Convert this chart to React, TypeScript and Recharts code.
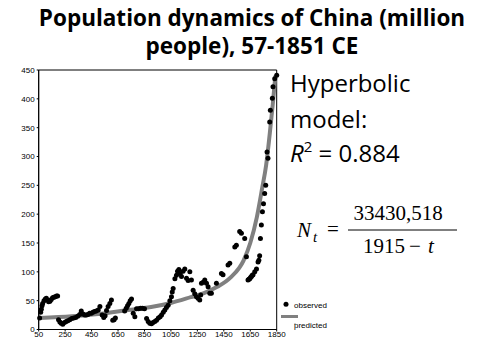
import { ComposedChart, Line, Scatter, XAxis, YAxis, ReferenceArea } from "recharts";

// observed population, million people
const observedYears = [
  57, 65, 70, 75, 80, 90, 100, 108, 115, 125, 135, 145, 155, 165, 175, 185, 193,
  200, 210, 220, 232, 245, 258, 270, 285, 300, 315, 330, 345, 360, 372, 385, 398, 410, 422, 435, 448, 460, 472, 485,
  500, 513, 530, 542, 552, 563, 575, 588, 600, 610, 620, 630,
  700, 712, 722, 732, 742, 752, 765, 777, 790, 805, 820, 835, 850,
  866, 878, 890, 903, 915, 928, 941, 955, 968, 979, 992, 1004, 1016, 1029, 1042, 1054, 1060, 1067,
  1080, 1092, 1100, 1110, 1120, 1130, 1142, 1155, 1168, 1180, 1193, 1205, 1218, 1230, 1243, 1255, 1268, 1275,
  1281, 1294, 1306, 1319, 1331, 1344, 1356,
  1394, 1432, 1444, 1482, 1495, 1533, 1545, 1570, 1583, 1608, 1621,
  1633, 1640, 1646, 1652, 1659, 1665, 1671, 1684, 1697, 1709, 1715, 1721, 1727, 1734, 1742, 1750, 1759, 1767,
  1777, 1784, 1797, 1802, 1817, 1822, 1835, 1850,
];
const observedValues = [
  20, 30, 35, 41, 45, 50, 53, 54, 51, 48, 49, 52, 55, 56, 57, 58, 58,
  17, 13, 11, 9, 12, 14, 15, 17, 19, 20, 21, 23, 26, 32, 27, 25, 25, 26, 28, 28, 30, 31, 32,
  34, 40, 25, 21, 24, 33, 40, 45, 51, 16, 17, 20,
  32, 37, 41, 45, 50, 53, 28, 22, 36, 36, 37, 37, 36,
  19, 14, 11, 10, 12, 14, 16, 20, 22, 25, 30, 34, 38, 42, 50, 57, 65, 71,
  88, 94, 101, 104, 97, 92, 101, 105, 89, 85, 100, 86, 68, 62, 57, 54, 51, 60,
  80, 82, 86, 80, 74, 63, 63,
  80, 97, 95, 112, 115, 143, 146, 170, 167, 158, 126,
  86, 87, 88, 90, 92, 94, 95, 100, 105, 117, 120, 128, 158, 181, 204, 218, 236, 250,
  308, 297, 360, 380, 401, 421, 435, 441,
];

// predicted (hyperbolic model) curve
const predictedYears = [57, 300, 500, 700, 900, 1050, 1200, 1300, 1400, 1500, 1600, 1650, 1700, 1740, 1770, 1800, 1820, 1840];
const predictedValues = [20, 23, 27, 33, 39, 46, 56, 63, 74, 90, 120, 150, 195, 245, 285, 345, 390, 440];

const xTicks = [50, 250, 450, 650, 850, 1050, 1250, 1450, 1650, 1850];
const yTicks = [0, 50, 100, 150, 200, 250, 300, 350, 400, 450];

const observedData = observedYears.map((year, i) => ({ year, value: observedValues[i] }));
const predictedData = predictedYears.map((year, i) => ({ year, value: predictedValues[i] }));

const tickStyle = { fontSize: 8, fontFamily: "'Liberation Sans', Arial, sans-serif", fill: "#000" };

const Dot = (props: any) => <circle cx={props.cx} cy={props.cy} r={2.5} fill="#000" />;

export default function App() {
  return (
    <div style={{ position: "absolute", left: 0, top: 0, width: 480, height: 360, background: "#fff" }}>
      <ComposedChart
        width={480}
        height={360}
        margin={{ top: 70, right: 203.3, bottom: 10.5, left: 8.7 }}
      >
        <XAxis
          dataKey="year"
          type="number"
          domain={[50, 1850]}
          ticks={xTicks}
          interval={0}
          height={20}
          tick={tickStyle}
          tickSize={2}
          tickMargin={0}
          stroke="#000"
        />
        <YAxis
          type="number"
          domain={[0, 450]}
          ticks={yTicks}
          interval={0}
          width={30}
          tick={tickStyle}
          tickSize={2}
          tickMargin={2}
          stroke="#000"
        />
        <ReferenceArea x1={50} x2={1850} y1={0} y2={450} stroke="#000" strokeWidth={1} fill="none" />
        <Line
          data={predictedData}
          dataKey="value"
          type="monotone"
          stroke="#808080"
          strokeWidth={4}
          dot={false}
          isAnimationActive={false}
        />
        <Scatter data={observedData} dataKey="value" shape={Dot} isAnimationActive={false} />
      </ComposedChart>

      <svg
        width={480}
        height={360}
        style={{ position: "absolute", left: 0, top: 0, pointerEvents: "none" }}
      >
        <g fontFamily="'Open Sans', sans-serif" fontWeight="bold" fontSize={22.5} textAnchor="middle">
          <text x={252} y={26}>Population dynamics of China (million</text>
          <text x={252} y={54}>people), 57-1851 CE</text>
        </g>

        <g fontFamily="'Open Sans', sans-serif" fontSize={24}>
          <text x={290} y={92}>Hyperbolic</text>
          <text x={290} y={128}>model:</text>
          <text x={290} y={162}>
            <tspan fontStyle="italic">R</tspan>
            <tspan fontSize={15} dy={-10}>2</tspan>
            <tspan dy={10}> = 0.884</tspan>
          </text>
        </g>

        <g fontFamily="'Liberation Serif', 'Times New Roman', serif" fontSize={21}>
          <text x={297} y={237} fontStyle="italic">N</text>
          <text x={313} y={242} fontStyle="italic" fontSize={15}>t</text>
          <text x={327} y={236}>=</text>
          <line x1={348} y1={230} x2={457} y2={230} stroke="#000" strokeWidth={1} />
          <text x={398} y={220} textAnchor="middle">33430,518</text>
          <text x={363} y={253}>1915</text>
          <text x={409} y={253}>−</text>
          <text x={428} y={253} fontStyle="italic">t</text>
        </g>

        <g fontFamily="'Liberation Sans', Arial, sans-serif" fontSize={8}>
          <circle cx={286} cy={304.3} r={2.5} fill="#000" />
          <text x={294} y={307.5}>observed</text>
          <line x1={281} y1={316.5} x2={298} y2={316.5} stroke="#808080" strokeWidth={3} />
          <circle cx={295} cy={324} r={0.7} fill="#808080" />
          <text x={294} y={327.5}>predicted</text>
        </g>
      </svg>
    </div>
  );
}
